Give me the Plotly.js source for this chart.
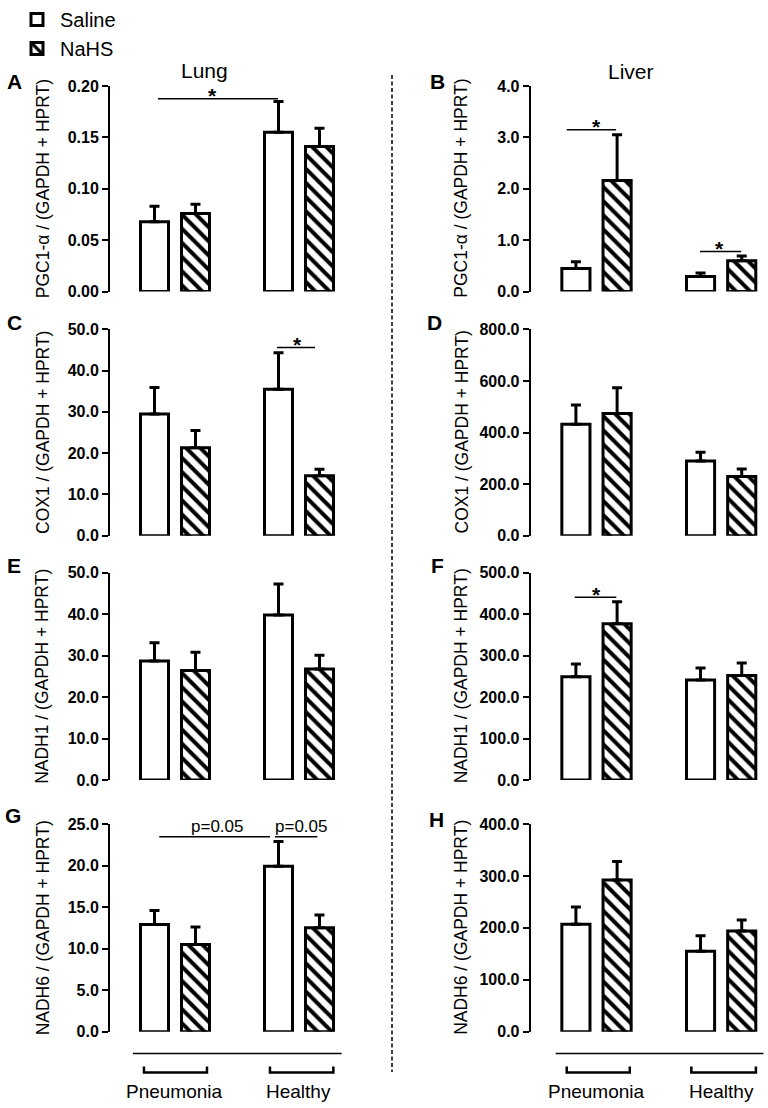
<!DOCTYPE html>
<html>
<head>
<meta charset="utf-8">
<script src="https://cdn.plot.ly/plotly-3.0.1.min.js"></script>
<style>html,body{margin:0;padding:0;background:#fff}#chart{width:768px;height:1108px}</style>
</head>
<body>
<div id="chart"></div>
<script>
// ---------- data ----------
const groups = ['Pneumonia', 'Healthy'];
const treatments = ['Saline', 'NaHS'];

// Lung (left column)
const pgc1LungSaline = [0.068, 0.155];
const pgc1LungSalineSem = [0.015, 0.030];
const pgc1LungNahs = [0.076, 0.141];
const pgc1LungNahsSem = [0.009, 0.018];

const cox1LungSaline = [29.5, 35.5];
const cox1LungSalineSem = [6.4, 8.8];
const cox1LungNahs = [21.3, 14.5];
const cox1LungNahsSem = [4.2, 1.6];

const nadh1LungSaline = [28.7, 39.8];
const nadh1LungSalineSem = [4.4, 7.5];
const nadh1LungNahs = [26.4, 26.8];
const nadh1LungNahsSem = [4.4, 3.3];

const nadh6LungSaline = [12.9, 19.9];
const nadh6LungSalineSem = [1.7, 3.0];
const nadh6LungNahs = [10.5, 12.5];
const nadh6LungNahsSem = [2.1, 1.55];

// Liver (right column)
const pgc1LiverSaline = [0.45, 0.29];
const pgc1LiverSalineSem = [0.13, 0.07];
const pgc1LiverNahs = [2.16, 0.60];
const pgc1LiverNahsSem = [0.89, 0.09];

const cox1LiverSaline = [432, 290];
const cox1LiverSalineSem = [75, 33];
const cox1LiverNahs = [474, 229];
const cox1LiverNahsSem = [99, 30];

const nadh1LiverSaline = [249, 241];
const nadh1LiverSalineSem = [31, 29];
const nadh1LiverNahs = [377, 252];
const nadh1LiverNahsSem = [53, 30];

const nadh6LiverSaline = [207, 155];
const nadh6LiverSalineSem = [33, 30];
const nadh6LiverNahs = [292, 194];
const nadh6LiverNahsSem = [36, 21];

// axis labels / ticks
const panelLetters = ['A', 'B', 'C', 'D', 'E', 'F', 'G', 'H'];
const yTitles = ['PGC1-α / (GAPDH + HPRT)', 'PGC1-α / (GAPDH + HPRT)',
                 'COX1 / (GAPDH + HPRT)', 'COX1 / (GAPDH + HPRT)',
                 'NADH1 / (GAPDH + HPRT)', 'NADH1 / (GAPDH + HPRT)',
                 'NADH6 / (GAPDH + HPRT)', 'NADH6 / (GAPDH + HPRT)'];
const yMax = [0.20, 4.0, 50.0, 800.0, 50.0, 500.0, 25.0, 400.0];
const yStep = [0.05, 1.0, 10.0, 200.0, 10.0, 100.0, 5.0, 100.0];
const yFormat = ['.2f', '.1f', '.1f', '.1f', '.1f', '.1f', '.1f', '.1f'];
const columnTitles = ['Lung', 'Liver'];

// ---------- geometry helpers ----------
const W = 768, H = 1108;
const px = x => x / W;
const py = y => 1 - y / H;
const FONT = 'Liberation Sans, Arial, sans-serif';

const panels = [
  [pgc1LungSaline, pgc1LungSalineSem, pgc1LungNahs, pgc1LungNahsSem],
  [pgc1LiverSaline, pgc1LiverSalineSem, pgc1LiverNahs, pgc1LiverNahsSem],
  [cox1LungSaline, cox1LungSalineSem, cox1LungNahs, cox1LungNahsSem],
  [cox1LiverSaline, cox1LiverSalineSem, cox1LiverNahs, cox1LiverNahsSem],
  [nadh1LungSaline, nadh1LungSalineSem, nadh1LungNahs, nadh1LungNahsSem],
  [nadh1LiverSaline, nadh1LiverSalineSem, nadh1LiverNahs, nadh1LiverNahsSem],
  [nadh6LungSaline, nadh6LungSalineSem, nadh6LungNahs, nadh6LungNahsSem],
  [nadh6LiverSaline, nadh6LiverSalineSem, nadh6LiverNahs, nadh6LiverNahsSem]
];

const colX = [[110, 361], [530.7, 766]];
const colRange = [[-0.524, 1.5], [-0.528, 1.36]];
const rowY = [[86, 291.5], [329.3, 535.7], [572.7, 780], [824, 1031.7]];
const letterPos = [[14, 82], [437, 81], [14, 323], [434, 322], [14, 565], [437, 565], [13, 815], [436, 819]];
const titleX = [42.5, 461];

const traces = [];
const layout = {
  width: W, height: H, autosize: false,
  margin: {l: 0, r: 0, t: 0, b: 0, autoexpand: false},
  paper_bgcolor: 'white', plot_bgcolor: 'rgba(0,0,0,0)',
  bargap: 0.339, bargroupgap: 0.317, barmode: 'group',
  font: {family: FONT, color: 'black'},
  showlegend: true,
  legend: {x: px(14), y: 1, xanchor: 'left', yanchor: 'top',
           font: {family: FONT, size: 20, color: 'black'},
           bgcolor: 'rgba(0,0,0,0)', tracegroupgap: 0, itemwidth: 36},
  annotations: [], shapes: []
};

panels.forEach((p, i) => {
  const n = i + 1;
  const col = i % 2, row = Math.floor(i / 2);
  const xa = n === 1 ? 'x' : 'x' + n;
  const ya = n === 1 ? 'y' : 'y' + n;
  const err = arr => ({type: 'data', symmetric: false, array: arr, arrayminus: arr.map(() => 0),
                       color: 'black', thickness: 3, width: 5});
  traces.push({
    type: 'bar', name: treatments[0], x: groups, y: p[0], xaxis: xa, yaxis: ya,
    marker: {color: 'white', line: {color: 'black', width: 3}},
    error_y: err(p[1]), showlegend: i === 0, legendgroup: 'sal', hoverinfo: 'skip'
  });
  traces.push({
    type: 'bar', name: treatments[1], x: groups, y: p[2], xaxis: xa, yaxis: ya,
    marker: {color: 'white', line: {color: 'black', width: 3},
             pattern: {shape: '\\', fgcolor: 'black', bgcolor: 'white', size: 10, solidity: 0.4}},
    error_y: err(p[3]), showlegend: i === 0, legendgroup: 'nahs', hoverinfo: 'skip'
  });
  layout['xaxis' + (n === 1 ? '' : n)] = {
    domain: [px(colX[col][0]), px(colX[col][1])], anchor: ya,
    type: 'category', range: colRange[col], showline: false, showticklabels: false,
    ticks: '', showgrid: false, zeroline: false, fixedrange: true
  };
  layout['yaxis' + (n === 1 ? '' : n)] = {
    domain: [py(rowY[row][1]), py(rowY[row][0])], anchor: xa,
    range: [0, yMax[i]], dtick: yStep[i], tick0: 0, tickformat: yFormat[i],
    showline: true, linecolor: 'black', linewidth: 2,
    ticks: 'outside', ticklen: 6, tickwidth: 2, tickcolor: 'black',
    tickfont: {family: FONT, size: 16, color: 'black', weight: 'bold'},
    showgrid: false, zeroline: false, fixedrange: true
  };
  layout.annotations.push({
    text: panelLetters[i], xref: 'paper', yref: 'paper', x: px(letterPos[i][0]), y: py(letterPos[i][1]),
    xanchor: 'center', yanchor: 'middle', showarrow: false,
    font: {family: FONT, size: 21, color: 'black', weight: 'bold'}
  });
  layout.annotations.push({
    text: yTitles[i], xref: 'paper', yref: ya + ' domain', x: px(titleX[col]), y: 0.5,
    xanchor: 'center', yanchor: 'middle', textangle: -90, showarrow: false,
    font: {family: FONT, size: 17.5, color: 'black'}
  });
});

// column titles
layout.annotations.push({text: columnTitles[0], xref: 'paper', yref: 'paper', x: px(204), y: py(70),
  xanchor: 'center', yanchor: 'middle', showarrow: false, font: {family: FONT, size: 21, color: 'black'}});
layout.annotations.push({text: columnTitles[1], xref: 'paper', yref: 'paper', x: px(631), y: py(71),
  xanchor: 'center', yanchor: 'middle', showarrow: false, font: {family: FONT, size: 21, color: 'black'}});

// dashed divider
layout.shapes.push({type: 'line', xref: 'paper', yref: 'paper', x0: px(392), x1: px(392), y0: py(75), y1: py(1072),
  line: {color: 'black', width: 1.5, dash: '4px,2.5px'}});

// significance markers
function sig(xa, ya, x0, x1, y, label, lx, isStar) {
  layout.shapes.push({type: 'line', xref: xa, yref: ya, x0: x0, x1: x1, y0: y, y1: y,
    line: {color: 'black', width: 1.5}});
  layout.annotations.push({text: label, xref: xa, yref: ya, x: lx, y: y, showarrow: false,
    xanchor: 'center', yanchor: isStar ? 'middle' : 'bottom', yshift: isStar ? 3 : -1,
    font: {family: FONT, size: isStar ? 21 : 17, color: 'black', weight: isStar ? 'bold' : 'normal'}});
}
sig('x', 'y', -0.137, 0.83, 0.1876, '*', 0.306, true);
sig('x2', 'y2', -0.239, 0.157, 3.146, '*', 0.0, true);
sig('x2', 'y2', 0.831, 1.161, 0.78, '*', 0.99, true);
sig('x3', 'y3', 0.823, 1.129, 45.6, '*', 0.99, true);
sig('x6', 'y6', -0.175, 0.159, 440.6, '*', 0.0, true);
sig('x7', 'y7', -0.127, 0.766, 23.47, 'p=0.05', 0.339, false);
sig('x7', 'y7', 0.806, 1.148, 23.47, 'p=0.05', 1.02, false);

// bottom group brackets
function groupAxis(xa, lineX0, lineX1, brackets) {
  layout.shapes.push({type: 'line', xref: xa, yref: 'paper', x0: lineX0, x1: lineX1, y0: py(1053.5), y1: py(1053.5),
    line: {color: 'black', width: 1.5}});
  brackets.forEach((b, k) => {
    layout.shapes.push({type: 'path', xref: xa, yref: 'paper',
      path: `M ${b[0]},${py(1066.5)} L ${b[0]},${py(1072.5)} L ${b[1]},${py(1072.5)} L ${b[1]},${py(1066.5)}`,
      line: {color: 'black', width: 2.5}});
    layout.annotations.push({text: groups[k], xref: xa, yref: 'paper', x: k, y: py(1091.5),
      xanchor: 'center', yanchor: 'middle', showarrow: false, font: {family: FONT, size: 19, color: 'black'}});
  });
}
groupAxis('x7', -0.339, 1.344, [[-0.25, 0.258], [0.766, 1.277]]);
groupAxis('x8', -0.328, 1.34, [[-0.239, 0.267], [0.761, 1.279]]);

Plotly.newPlot('chart', traces, layout, {staticPlot: true, displayModeBar: false});
</script>
</body>
</html>
